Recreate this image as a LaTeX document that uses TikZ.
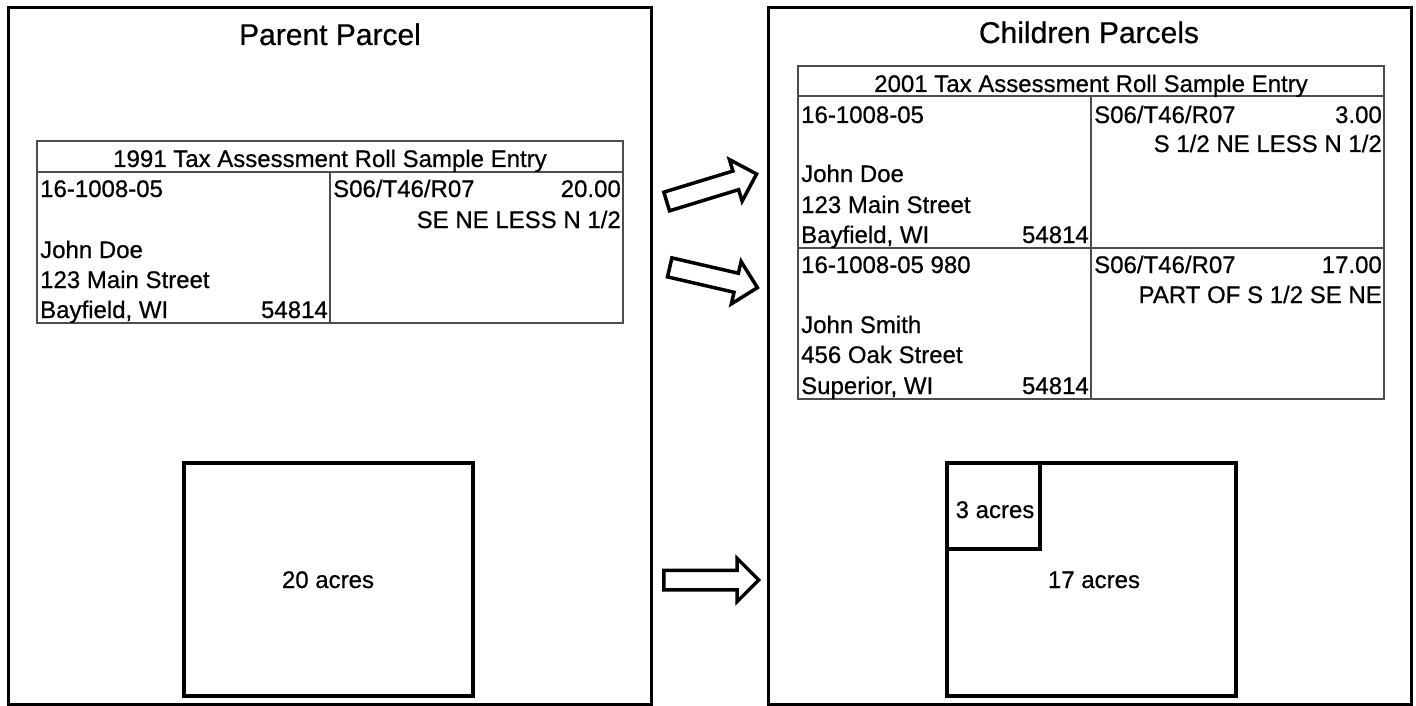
\documentclass[tikz,border=0pt]{standalone}
\usepackage{fontspec}
\setmainfont[FakeBold=0.6]{Liberation Sans}
\usetikzlibrary{shapes.arrows}

\begin{document}
\begin{tikzpicture}[x=1pt,y=-1pt]
        \tikzset{frame/.style = {draw, line width=3pt}}
        \tikzset{grid/.style = {draw=black!70, line width=1.2pt}}
        \tikzset{plot/.style = {draw, line width=4pt}}
        \tikzset{title/.style = {font=\fontsize{30}{36}\selectfont, anchor=base, inner sep=0}}
        \tikzset{entry/.style = {font=\fontsize{24}{30}\selectfont, inner sep=0}}
        \tikzset{lft/.style = {entry, anchor=base west}}
        \tikzset{rgt/.style = {entry, anchor=base east}}
        \tikzset{mid/.style = {entry, anchor=base}}
        \tikzset{blockarrow/.style = {single arrow, draw, line width=3.5pt, inner xsep=0pt, inner ysep=8pt, single arrow head extend=12pt, anchor=tail}}
        \useasboundingbox (0,0) rectangle (1416,706);
        % frames
        \draw[frame] (8,8) rectangle (651,704);
        \draw[frame] (768,8) rectangle (1411,704);
        \node[title] (parent) at (330,45) {Parent Parcel};
        \node[title] (children) at (1089,43) {Children Parcels};

        % 1991 roll
        \draw[grid] (37,141) rectangle (623,323);
        \draw[grid] (37,172) -- (623,172);
        \draw[grid] (330,172) -- (330,323);
        \node[mid] (roll1) at (330,167) {1991 Tax Assessment Roll Sample Entry};
        \node[lft] (pid1) at (40,197) {16-1008-05};
        \node[lft] (own1) at (40,258) {John Doe};
        \node[lft] (str1) at (40,288) {123 Main Street};
        \node[lft] (city1) at (40,318) {Bayfield, WI};
        \node[rgt] (zip1) at (328,318) {54814};
        \node[lft] (loc1) at (333,197) {S06/T46/R07};
        \node[rgt] (ac1) at (621,197) {20.00};
        \node[rgt] (desc1) at (621,228) {SE NE LESS N 1/2};

        % 2001 roll
        \draw[grid] (798,66) rectangle (1384,399);
        \draw[grid] (798,96) -- (1384,96);
        \draw[grid] (798,248) -- (1384,248);
        \draw[grid] (1091,96) -- (1091,399);
        \node[mid] (roll2) at (1091,92) {2001 Tax Assessment Roll Sample Entry};
        \node[lft] (pid2) at (801,123) {16-1008-05};
        \node[lft] (own2) at (801,182) {John Doe};
        \node[lft] (str2) at (801,213) {123 Main Street};
        \node[lft] (city2) at (801,243) {Bayfield, WI};
        \node[rgt] (zip2) at (1089,243) {54814};
        \node[lft] (loc2) at (1094,123) {S06/T46/R07};
        \node[rgt] (ac2) at (1382,123) {3.00};
        \node[rgt] (desc2) at (1382,152) {S 1/2 NE LESS N 1/2};
        \node[lft] (pid3) at (801,273) {16-1008-05 980};
        \node[lft] (own3) at (801,333) {John Smith};
        \node[lft] (str3) at (801,363) {456 Oak Street};
        \node[lft] (city3) at (801,394) {Superior, WI};
        \node[rgt] (zip3) at (1089,394) {54814};
        \node[lft] (loc3) at (1094,273) {S06/T46/R07};
        \node[rgt] (ac3) at (1382,273) {17.00};
        \node[rgt] (desc3) at (1382,303) {PART OF S 1/2 SE NE};

        % parcels
        \draw[plot] (184,463) rectangle (473,696);
        \node[mid] (whole) at (328,588) {20 acres};
        \draw[plot] (947,463) rectangle (1236,696);
        \draw[plot] (1040,463) -- (1040,549) -- (947,549);
        \node[mid] (small) at (995,518) {3 acres};
        \node[mid] (rest) at (1094,588) {17 acres};

        % arrows
        \node[blockarrow, minimum height=94pt, rotate=17] (split1) at (665,202) {};
        \node[blockarrow, minimum height=90pt, rotate=-13] (split2) at (668,267) {};
        \node[blockarrow, minimum height=95pt] (split3) at (662,580) {};
\end{tikzpicture}
\end{document}
